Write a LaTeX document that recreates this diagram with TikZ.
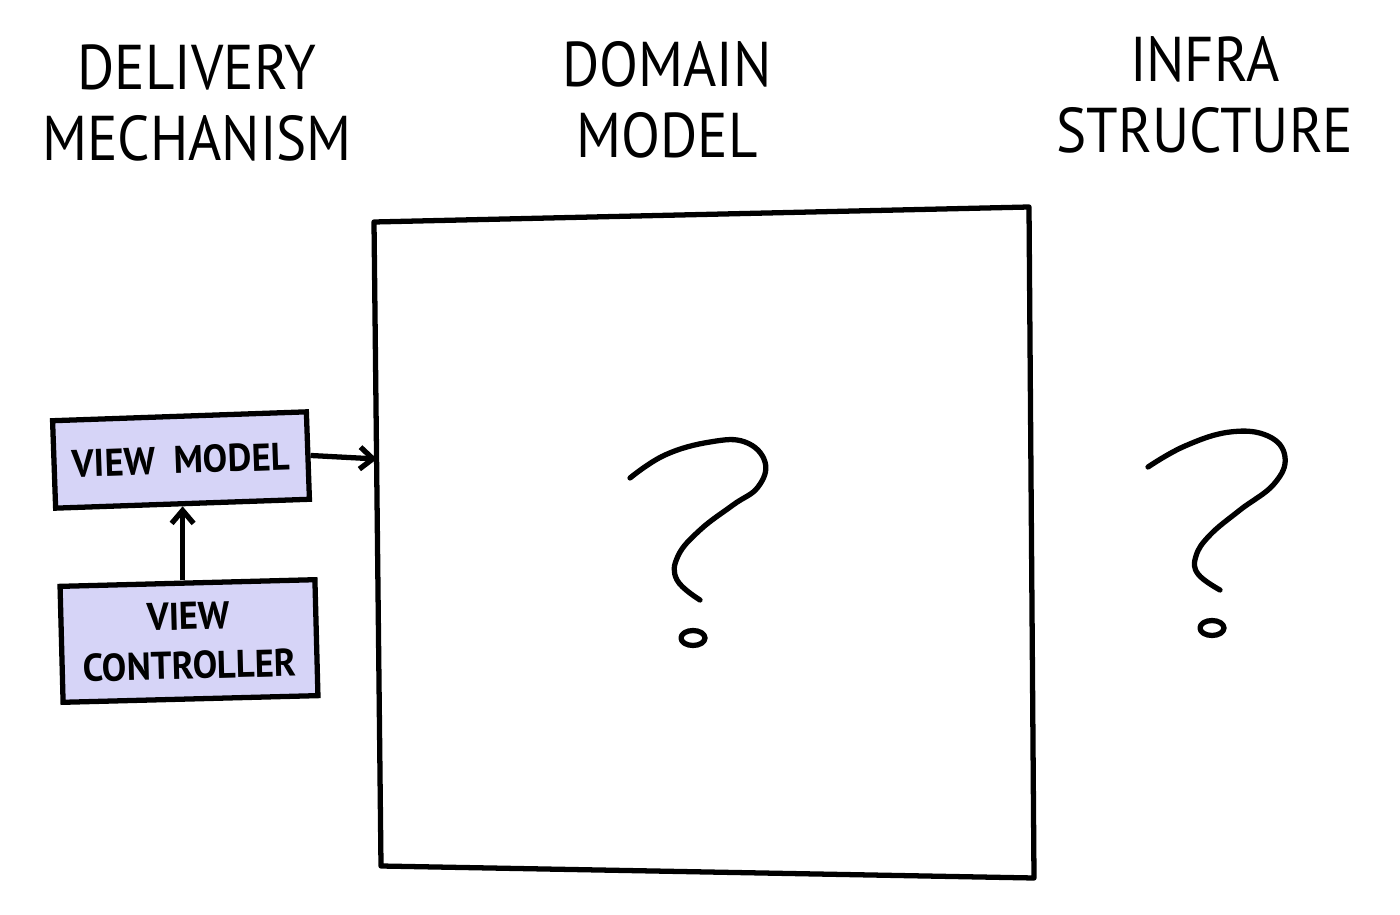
\documentclass[tikz,border=0pt]{standalone}
\usepackage{fontspec}
\setmainfont{PT Sans}
\newfontfamily\headfont[FakeStretch=0.9]{PT Sans}
\newfontfamily\boxfont[FakeStretch=0.95]{PT Sans}
\usetikzlibrary{arrows.meta}

\definecolor{lavender}{RGB}{214,212,247}

\tikzset{
  headtext/.style={font=\headfont\fontsize{36}{40}\selectfont, align=center},
  layerbox/.style={draw, line width=3pt, fill=lavender, align=center,
    font=\boxfont\bfseries\fontsize{22}{26}\selectfont, inner sep=0pt},
  scribble/.style={line width=3pt, line cap=round, line join=round},
}

\begin{document}
\begin{tikzpicture}[x=0.02cm, y=-0.02cm, >={Straight Barb[length=2.6mm, width=4.4mm]}]

    \useasboundingbox (0,0) rectangle (1400,915);

    % ============================================================
    % COLUMN HEADINGS
    % ============================================================
    \node[headtext] (delivery) at (197,103) {DELIVERY\\MECHANISM};
    \node[headtext] (domain)   at (667,100) {DOMAIN\\MODEL};
    \node[headtext] (infra)    at (1205,95) {INFRA\\STRUCTURE};

    % ============================================================
    % DOMAIN MODEL BOX
    % ============================================================
    \coordinate (dtl) at (374,222);
    \coordinate (dtr) at (1029,207);
    \coordinate (dbr) at (1034,878);
    \coordinate (dbl) at (381,866);
    \coordinate (domin) at (377,459);
    \draw[scribble] (dtl) -- (dtr) -- (dbr) -- (dbl) -- cycle;

    % ============================================================
    % DELIVERY MECHANISM
    % ============================================================
    \node[layerbox, minimum width=5.08cm, minimum height=1.75cm, rotate=2]
        (vm) at (181,460) {VIEW\ \ MODEL};
    \node[layerbox, minimum width=5.1cm, minimum height=2.32cm, rotate=1.5]
        (vc) at (189,641) {VIEW\\[2pt]CONTROLLER};

    \draw[->, line width=3pt] (vm.south |- vc.north) -- (vm.south);
    \draw[->, line width=3pt] (vm.east) -- (domin);

    % ============================================================
    % OPEN QUESTIONS
    % ============================================================
    \draw[scribble] plot[smooth, tension=0.7] coordinates {(630,478) (665,455)
        (710,442) (745,442) (765,462) (758,487) (733,505) (700,530)
        (678,556) (677,580) (700,600)};
    \draw[scribble] (693,638) ellipse [x radius=0.24cm, y radius=0.15cm];

    \draw[scribble] plot[smooth, tension=0.7] coordinates {(1148,467) (1185,446)
        (1230,432) (1268,436) (1285,457) (1274,484) (1240,510) (1210,535)
        (1196,556) (1198,574) (1220,590)};
    \draw[scribble] (1212,628) ellipse [x radius=0.24cm, y radius=0.15cm];

\end{tikzpicture}
\end{document}
